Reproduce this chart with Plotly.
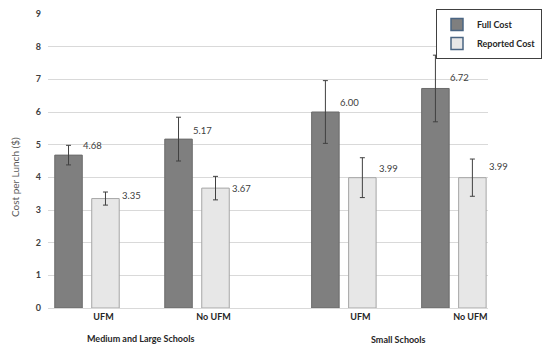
import plotly.graph_objects as go

# ---- data ----
categories = ["UFM", "No UFM", "UFM", "No UFM"]
groups = ["Medium and Large Schools", "Small Schools"]
full_cost = [4.68, 5.17, 6.00, 6.72]
full_err = [0.30, 0.67, 0.96, 1.02]
reported_cost = [3.35, 3.67, 3.99, 3.99]
reported_err = [0.20, 0.36, 0.61, 0.57]
y_ticks = [0, 1, 2, 3, 4, 5, 6, 7, 8, 9]

# ---- layout helpers (positions, not data) ----
cat_pos = [0, 1, 2.335, 3.335]
half = 0.168
bar_w = 0.25
label_dy_full = [10, 9, 10, 11]
label_dy_rep = [3, 0, 9, 11]
OFF = 8  # page body margin offset

FONT = "Lato, 'Open Sans', Arial, sans-serif"
FULL_FILL = "#7f7f7f"
REP_FILL = "#e7e7e7"

fig = go.Figure()
fig.add_trace(go.Bar(
    x=cat_pos, y=full_cost, name="Full Cost", showlegend=False,
    width=bar_w, offset=-half - bar_w / 2,
    marker=dict(color=FULL_FILL, line=dict(color="#6b6b6b", width=1)),
    error_y=dict(type="data", array=full_err, color="#404040", thickness=1, width=2.5),
))
fig.add_trace(go.Bar(
    x=cat_pos, y=reported_cost, name="Reported Cost", showlegend=False,
    width=bar_w, offset=half - bar_w / 2,
    marker=dict(color=REP_FILL, line=dict(color="#a6a6a6", width=1)),
    error_y=dict(type="data", array=reported_err, color="#404040", thickness=1, width=2.5),
))
# legend-only entries
fig.add_trace(go.Bar(x=[None], y=[None], name="<b>Full Cost</b>",
                     marker=dict(color=FULL_FILL, line=dict(color="#4a6583", width=1.5))))
fig.add_trace(go.Bar(x=[None], y=[None], name="<b>Reported Cost</b>",
                     marker=dict(color=REP_FILL, line=dict(color="#4a6583", width=1.5))))

annotations = []
for p, v, dy in zip(cat_pos, full_cost, label_dy_full):
    annotations.append(dict(x=p - half, y=v, text=f"{v:.2f}", showarrow=False,
                            xshift=24, yshift=dy, font=dict(size=9.5, color="#404040", family=FONT)))
for p, v, dy in zip(cat_pos, reported_cost, label_dy_rep):
    annotations.append(dict(x=p + half, y=v, text=f"{v:.2f}", showarrow=False,
                            xshift=26, yshift=dy, font=dict(size=9.5, color="#404040", family=FONT)))

annotations.append(dict(xref="paper", yref="paper", x=(140 - 48) / 440, y=(308 - 338.5) / 294,
                        xanchor="center", yanchor="middle",
                        text="<b>" + groups[0] + "</b>", showarrow=False,
                        font=dict(size=9, color="#262626", family=FONT)))
annotations.append(dict(xref="paper", yref="paper", x=(398 - 48) / 440, y=(308 - 339.5) / 294,
                        xanchor="center", yanchor="middle",
                        text="<b>" + groups[1] + "</b>", showarrow=False,
                        font=dict(size=9, color="#262626", family=FONT)))
annotations.append(dict(xref="paper", yref="paper", x=(15 - 48) / 440, y=(308 - 177) / 294,
                        xanchor="center", yanchor="middle",
                        text="Cost per Lunch ($)", showarrow=False, textangle=-90,
                        font=dict(size=10, color="#595959", family=FONT)))

fig.update_layout(
    width=550, height=350,
    margin=dict(l=48 - OFF, r=550 - 488 + OFF, t=14 - OFF, b=350 - 308 + OFF, autoexpand=False),
    paper_bgcolor="white", plot_bgcolor="white",
    font=dict(family=FONT, size=9, color="#404040"),
    barmode="overlay",
    showlegend=True,
    legend=dict(xref="container", yref="container", x=(542 - OFF) / 550, xanchor="right",
                y=1 - (9 - OFF) / 350, yanchor="top",
                bgcolor="white", bordercolor="#404040", borderwidth=1,
                font=dict(size=9, color="#262626", family=FONT), itemwidth=30,
                tracegroupgap=0),
    annotations=annotations,
)
fig.update_xaxes(range=[-0.3545, 3.645], tickmode="array",
                 tickvals=[p + 0.15 for p in cat_pos],
                 ticktext=["<b>" + c + "</b>" for c in categories],
                 showgrid=False, zeroline=False, showline=True, linecolor="#d9d9d9",
                 ticks="", tickfont=dict(size=9, color="#262626", family=FONT))
fig.update_yaxes(range=[0, 9], tickmode="array", tickvals=y_ticks,
                 ticktext=["<b>" + str(t) + "</b>" for t in y_ticks],
                 showgrid=True, gridcolor="#d9d9d9", zeroline=False,
                 ticks="", ticklabelstandoff=6,
                 tickfont=dict(size=9, color="#404040", family=FONT))

fig.write_html("out.html")
